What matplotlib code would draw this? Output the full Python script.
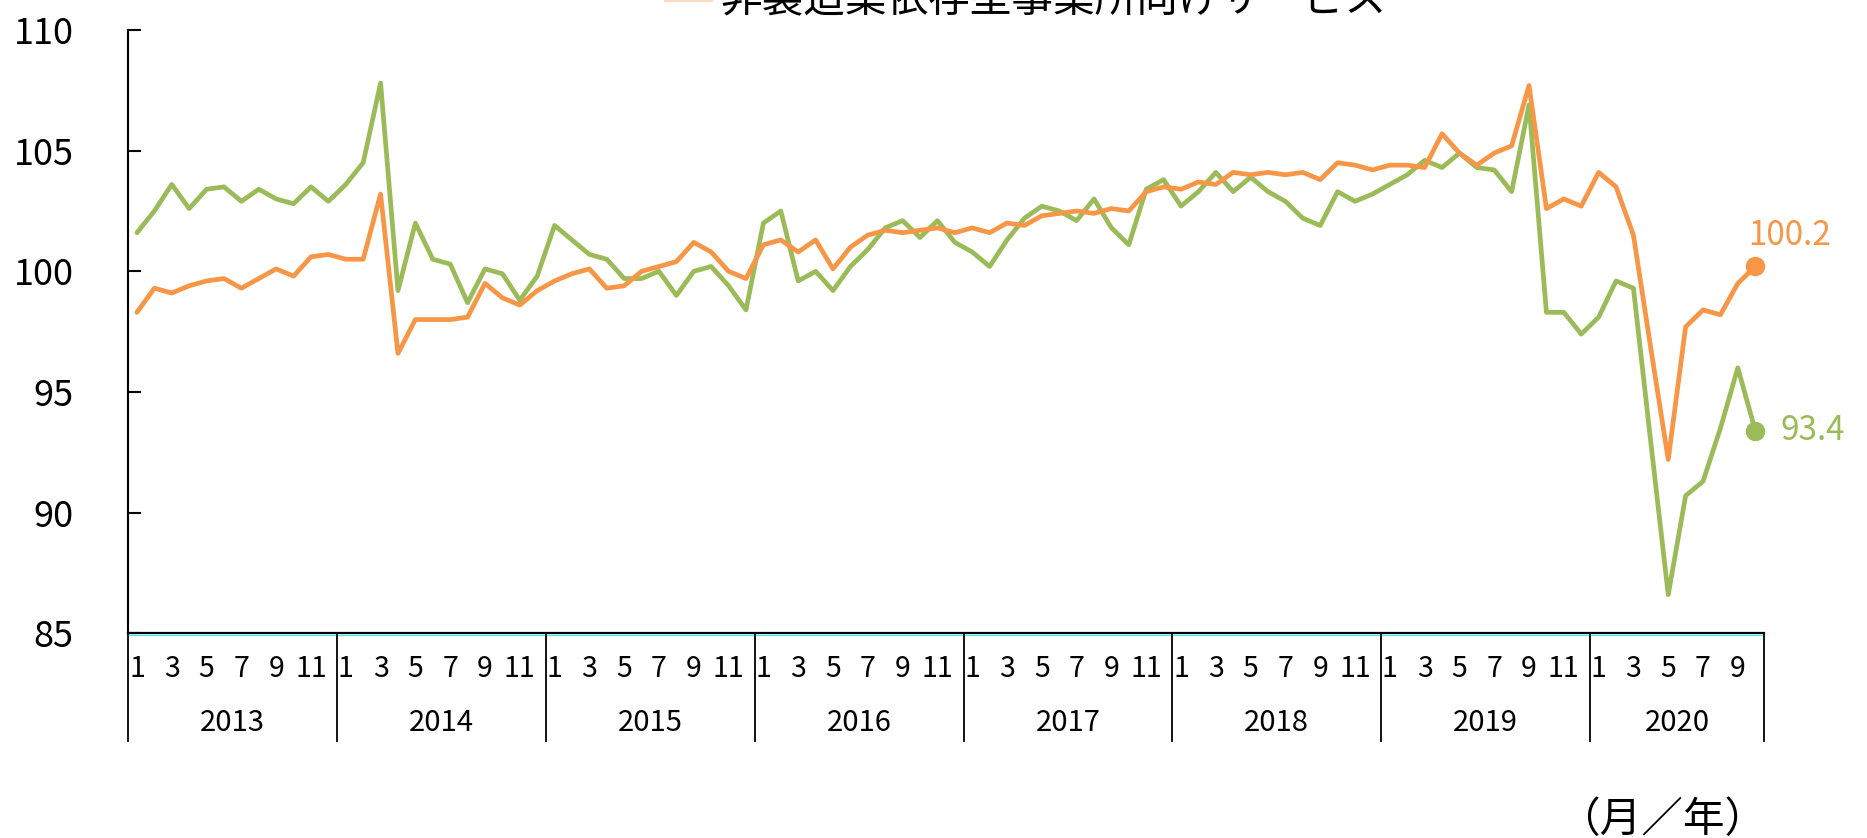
import matplotlib
matplotlib.use('Agg')
import matplotlib.pyplot as plt
import matplotlib.transforms as mtransforms
from matplotlib.lines import Line2D

plt.rcParams['font.family'] = ['Noto Sans CJK JP', 'DejaVu Sans']

# ---------------- data ----------------
years = ['2013', '2014', '2015', '2016', '2017', '2018', '2019', '2020']
months_in_year = [12, 12, 12, 12, 12, 12, 12, 10]
month_labels = ['1', '', '3', '', '5', '', '7', '', '9', '', '11', '']

green_series = [
    101.6, 102.5, 103.6, 102.6, 103.4, 103.5, 102.9, 103.4, 103.0, 102.8, 103.5, 102.9,
    103.6, 104.5, 107.8, 99.2, 102.0, 100.5, 100.3, 98.7, 100.1, 99.9, 98.8, 99.8,
    101.9, 101.3, 100.7, 100.5, 99.7, 99.7, 100.0, 99.0, 100.0, 100.2, 99.4, 98.4,
    102.0, 102.5, 99.6, 100.0, 99.2, 100.2, 100.9, 101.8, 102.1, 101.4, 102.1, 101.2,
    100.8, 100.2, 101.3, 102.2, 102.7, 102.5, 102.1, 103.0, 101.8, 101.1, 103.4, 103.8,
    102.7, 103.3, 104.1, 103.3, 103.9, 103.3, 102.9, 102.2, 101.9, 103.3, 102.9, 103.2,
    103.6, 104.0, 104.6, 104.3, 104.9, 104.3, 104.2, 103.3, 106.9, 98.3, 98.3, 97.4,
    98.1, 99.6, 99.3, 92.9, 86.6, 90.7, 91.3, 93.5, 96.0, 93.4,
]
orange_series = [
    98.3, 99.3, 99.1, 99.4, 99.6, 99.7, 99.3, 99.7, 100.1, 99.8, 100.6, 100.7,
    100.5, 100.5, 103.2, 96.6, 98.0, 98.0, 98.0, 98.1, 99.5, 98.9, 98.6, 99.2,
    99.6, 99.9, 100.1, 99.3, 99.4, 100.0, 100.2, 100.4, 101.2, 100.8, 100.0, 99.7,
    101.1, 101.3, 100.8, 101.3, 100.1, 101.0, 101.5, 101.7, 101.6, 101.7, 101.8, 101.6,
    101.8, 101.6, 102.0, 101.9, 102.3, 102.4, 102.5, 102.4, 102.6, 102.5, 103.3, 103.5,
    103.4, 103.7, 103.6, 104.1, 104.0, 104.1, 104.0, 104.1, 103.8, 104.5, 104.4, 104.2,
    104.4, 104.4, 104.3, 105.7, 104.9, 104.4, 104.9, 105.2, 107.7, 102.6, 103.0, 102.7,
    104.1, 103.5, 101.5, 96.8, 92.2, 97.7, 98.4, 98.2, 99.5, 100.2,
]
legend_label = '非製造業依存型事業所向けサービス'
unit_label = '（月／年）'
y_ticks = [85, 90, 95, 100, 105, 110]

# ---------------- style ----------------
ORANGE = '#F79646'
GREEN = '#9BBB59'
W, H = 1867, 838

fig = plt.figure(figsize=(W / 100, H / 100), dpi=100)
ax = fig.add_axes([0.0687, 0.2443, 0.8761, 0.7199])

n = len(orange_series)
xs = list(range(n))

ax.plot(xs, green_series, color=GREEN, lw=3.4, solid_joinstyle='round',
        solid_capstyle='round', zorder=3)
ax.plot(xs, orange_series, color=ORANGE, lw=3.4, solid_joinstyle='round',
        solid_capstyle='round', zorder=4)
ax.plot([xs[-1]], [green_series[-1]], 'o', ms=13, color=GREEN, zorder=5, clip_on=False)
ax.plot([xs[-1]], [orange_series[-1]], 'o', ms=13, color=ORANGE, zorder=5, clip_on=False)

ax.annotate(f'{orange_series[-1]:.1f}', xy=(xs[-1], orange_series[-1]),
            xytext=(-5, 22), textcoords='offset points', ha='left', va='center',
            color=ORANGE, fontsize=24, annotation_clip=False)
ax.annotate(f'{green_series[-1]:.1f}', xy=(xs[-1], green_series[-1]),
            xytext=(18.5, 0), textcoords='offset points', ha='left', va='center',
            color=GREEN, fontsize=24, annotation_clip=False)

ax.set_xlim(-0.5, n - 0.5)
ax.set_ylim(85, 110)
ax.set_yticks(y_ticks)
ax.set_yticklabels([str(t) for t in y_ticks])
ax.tick_params(axis='y', direction='in', length=9.5, width=1.5, pad=39.5,
               labelsize=26, colors='black')
ax.set_xticks([])
for s in ['top', 'right']:
    ax.spines[s].set_visible(False)
ax.spines['left'].set_linewidth(1.5)
ax.spines['bottom'].set_linewidth(1.6)
ax.spines['bottom'].set_zorder(6)

# thin cyan line just under the x axis
off = mtransforms.offset_copy(ax.transData, fig=fig, x=0, y=-2, units='dots')
ax.plot([-0.5, n - 0.5], [85, 85], color='#40F0F0', lw=0.9, transform=off,
        clip_on=False, zorder=2)

# category axis: months + years with separators
blend = mtransforms.blended_transform_factory(ax.transData, ax.transAxes)
start = 0
bounds = [-0.5]
for yr, cnt in zip(years, months_in_year):
    for m in range(cnt):
        lab = month_labels[m]
        if lab:
            ax.text(start + m, -0.0597, lab, transform=blend, ha='center',
                    va='center', fontsize=20.5)
    ax.text(start + (cnt - 1) / 2, -0.1483, yr, transform=blend, ha='center',
            va='center', fontsize=21)
    start += cnt
    bounds.append(start - 0.5)
for b in bounds:
    ax.plot([b, b], [0, -0.178], transform=blend, color='black', lw=1.3,
            clip_on=False, zorder=6)

# legend (partly cut off at the top edge, as in the reference)
fig.add_artist(Line2D([665 / W, 712 / W], [0.9994, 0.9994], color='#FBDCC2', lw=1.5))
fig.text(720 / W, 0.9857, legend_label, fontsize=30, ha='left', va='baseline')

fig.text(1766 / W, (H - 820) / H, unit_label, fontsize=30, ha='right', va='center')

fig.savefig('out.png', dpi=100)
